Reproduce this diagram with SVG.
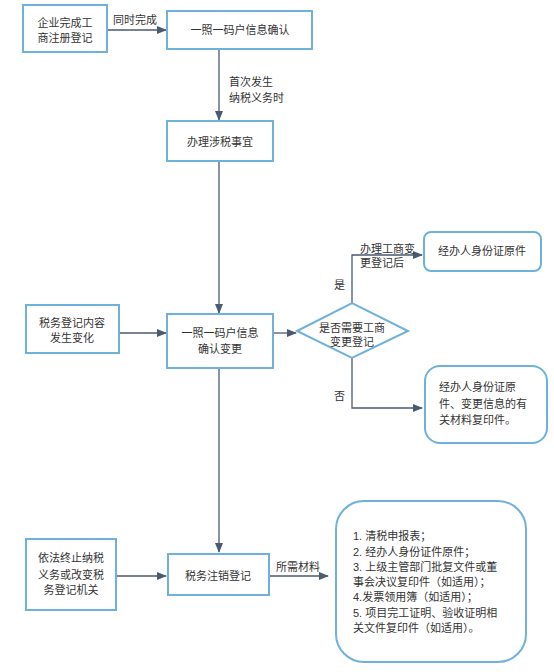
<svg xmlns="http://www.w3.org/2000/svg" width="554" height="672" viewBox="0 0 554 672">
<style>
.box{fill:#fff;stroke:#6fb1dd;stroke-width:2}
.ln{fill:none;stroke:#4a5a70;stroke-width:1.3}
text{font-family:"Liberation Sans","Noto Sans CJK SC",sans-serif;font-size:11px;fill:#333}
.c{text-anchor:middle}
</style>
<defs>
<marker id="ah" markerWidth="10" markerHeight="8" refX="9" refY="4" orient="auto" markerUnits="userSpaceOnUse">
<path d="M0,0 L10,4 L0,8 Z" fill="#4a5a70"/>
</marker>
</defs>
<g id="connectors">
<line class="ln" x1="107" y1="30" x2="166" y2="30" marker-end="url(#ah)"/>
<line class="ln" x1="219" y1="49" x2="219" y2="120" marker-end="url(#ah)"/>
<line class="ln" x1="219" y1="161" x2="219" y2="313" marker-end="url(#ah)"/>
<line class="ln" x1="119" y1="333" x2="166" y2="333" marker-end="url(#ah)"/>
<line class="ln" x1="273" y1="333" x2="296" y2="333" marker-end="url(#ah)"/>
<polyline class="ln" points="352,303 352,255 422,255" marker-end="url(#ah)"/>
<polyline class="ln" points="352,358 352,408 422,408" marker-end="url(#ah)"/>
<line class="ln" x1="219" y1="368" x2="219" y2="552" marker-end="url(#ah)"/>
<line class="ln" x1="116" y1="576" x2="166" y2="576" marker-end="url(#ah)"/>
<line class="ln" x1="269" y1="576" x2="328" y2="576" marker-end="url(#ah)"/>
<text x="113" y="24">同时完成</text>
<text x="229" y="86">首次发生</text>
<text x="229" y="102">纳税义务时</text>
<text x="360" y="253">办理工商变</text>
<text x="360" y="267">更登记后</text>
<text x="334" y="289">是</text>
<text x="334" y="400">否</text>
<text x="276" y="571">所需材料</text>
</g>
<g id="n1">
<rect class="box" x="23" y="5" width="84" height="47"/>
<text class="c" x="65" y="27">企业完成工</text>
<text class="c" x="65" y="42">商注册登记</text>
</g>
<g id="n2">
<rect class="box" x="167" y="11" width="145" height="38"/>
<text class="c" x="240" y="34">一照一码户信息确认</text>
</g>
<g id="n3">
<rect class="box" x="167" y="121" width="106" height="40"/>
<text class="c" x="220" y="146">办理涉税事宜</text>
</g>
<g id="n4">
<rect class="box" x="26" y="305" width="93" height="48"/>
<text class="c" x="72" y="327">税务登记内容</text>
<text class="c" x="72" y="342">发生变化</text>
</g>
<g id="n5">
<rect class="box" x="167" y="314" width="106" height="54"/>
<text class="c" x="220" y="337">一照一码户信息</text>
<text class="c" x="220" y="353">确认变更</text>
</g>
<g id="n6">
<polygon class="box" points="297,331 352,303 408,331 352,358"/>
<text class="c" x="352" y="332">是否需要工商</text>
<text class="c" x="352" y="346">变更登记</text>
</g>
<g id="n7">
<rect class="box" x="424" y="232" width="117" height="39" rx="7"/>
<text x="438" y="255">经办人身份证原件</text>
</g>
<g id="n8">
<rect class="box" x="425" y="366" width="122" height="77" rx="15"/>
<text x="439" y="391">经办人身份证原</text>
<text x="439" y="408">件、变更信息的有</text>
<text x="439" y="424">关材料复印件。</text>
</g>
<g id="n9">
<rect class="box" x="26" y="539" width="90" height="71"/>
<text class="c" x="71" y="562">依法终止纳税</text>
<text class="c" x="71" y="579">义务或改变税</text>
<text class="c" x="71" y="594">务登记机关</text>
</g>
<g id="n10">
<rect class="box" x="168" y="554" width="101" height="41"/>
<text class="c" x="218" y="580">税务注销登记</text>
</g>
<g id="n11">
<rect class="box" x="336" y="501" width="190" height="161" rx="28"/>
<text x="353" y="540">1. 清税申报表；</text>
<text x="353" y="556">2. 经办人身份证件原件；</text>
<text x="353" y="571">3. 上级主管部门批复文件或董</text>
<text x="353" y="586">事会决议复印件（如适用）；</text>
<text x="353" y="601">4.发票领用簿（如适用）；</text>
<text x="353" y="617">5. 项目完工证明、验收证明相</text>
<text x="353" y="632">关文件复印件（如适用）。</text>
</g>
</svg>
